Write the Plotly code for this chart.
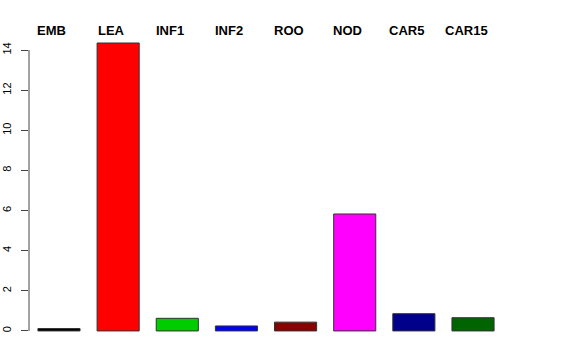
import plotly.graph_objects as go

categories = ["EMB", "LEA", "INF1", "INF2", "ROO", "NOD", "CAR5", "CAR15"]
values = [0.12, 14.35, 0.63, 0.25, 0.44, 5.83, 0.86, 0.66]
colors = ["#000000", "#FF0000", "#00CD00", "#0000FF", "#8B0000", "#FF00FF", "#00008B", "#006400"]
yticks = [0, 2, 4, 6, 8, 10, 12, 14]

xs = list(range(len(categories)))

fig = go.Figure(go.Bar(
    x=xs, y=values,
    marker=dict(color=colors, line=dict(color="#333333", width=1)),
    width=0.712,
))

annotations = [
    dict(x=i, y=1, xref="x", yref="paper", text=c, showarrow=False,
         yanchor="middle", xanchor="center", yshift=10, xshift=-7,
         font=dict(family="Liberation Sans", size=13, color="black", weight="bold"))
    for i, c in zip(xs, categories)
]

fig.update_layout(
    width=576, height=360,
    margin=dict(l=29, r=73, t=40, b=15, autoexpand=False),
    plot_bgcolor="white", paper_bgcolor="white",
    showlegend=False,
    annotations=annotations,
    shapes=[dict(type="line", xref="paper", yref="y", x0=0, x1=0, y0=0, y1=14,
                 line=dict(color="#444444", width=1))],
    xaxis=dict(range=[-0.507, 7.507], showticklabels=False, showgrid=False,
               zeroline=False, showline=False, ticks="", automargin=False),
    yaxis=dict(range=[-0.70, 14.5], tickvals=yticks, ticktext=[str(v) for v in yticks],
               showgrid=False, zeroline=False, showline=False, automargin=False,
               ticks="outside", ticklen=7, tickcolor="#444444", tickwidth=1,
               tickangle=-90, ticklabelstandoff=6,
               tickfont=dict(family="Liberation Sans", size=11, color="black")),
)

fig.write_html("out.html")
